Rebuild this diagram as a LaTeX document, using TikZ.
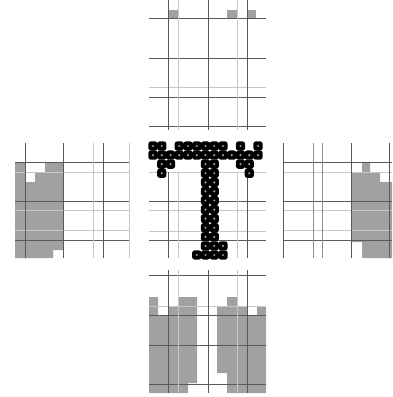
\documentclass[tikz,border=0pt]{standalone}
\begin{document}
\begin{tikzpicture}[x=1pt, y=-1pt, line join=round,
    dark/.style={black!65, line width=0.8pt},
    light/.style={black!22, line width=0.7pt},
    mid/.style={black!45, line width=0.7pt},
    blob/.style={fill=black!37, draw=none}]
  \useasboundingbox (0,0) rectangle (392,397);

  % 1. Vùng xám (vẽ trước, nằm dưới lưới)
  \fill[blob] (168,10) rectangle (178,18);
  \fill[blob] (227,10) rectangle (237,18);
  \fill[blob] (247,10) rectangle (256,18);
  % trái
  \fill[blob] (15,162) -- (25,162) -- (25,182) -- (35,182) -- (35,172) -- (45,172)
    -- (45,162) -- (63,162) -- (63,250) -- (53,250) -- (53,258) -- (15,258) -- cycle;
  % phải
  \fill[blob] (351,172) -- (362,172) -- (362,162) -- (370,162) -- (370,172) -- (380,172)
    -- (380,182) -- (392,182) -- (392,258) -- (362,258) -- (362,242) -- (351,242) -- cycle;
  % dưới
  \fill[blob] (149,297) -- (158,297) -- (158,315) -- (168,315) -- (168,306) -- (178,306)
    -- (178,297) -- (197,297) -- (197,383) -- (188,383) -- (188,393) -- (149,393) -- cycle;
  \fill[blob] (217,307) -- (227,307) -- (227,297) -- (237,297) -- (237,307) -- (247,307)
    -- (247,315) -- (257,315) -- (257,307) -- (266,307) -- (266,393) -- (227,393)
    -- (227,373) -- (217,373) -- cycle;

  % 2. Lưới trên
  \foreach \y in {18,58,97,126} \draw[dark] (149,\y) -- (266,\y);
  \draw[light] (149,87) -- (266,87);
  \foreach \x in {168,208,247} \draw[dark] (\x,0) -- (\x,130);
  \foreach \x in {178,237} \draw[light] (\x,0) -- (\x,130);

  % 3. Lưới giữa
  \foreach \y in {201,240} \draw[dark] (149,\y) -- (266,\y);
  \foreach \y in {172,210,231} \draw[light] (149,\y) -- (266,\y);
  \foreach \x in {168,208,247} \draw[dark] (\x,172) -- (\x,258);
  \foreach \x in {178,237} \draw[light] (\x,172) -- (\x,258);

  % 4. Lưới trái và phải
  \foreach \y in {162,201,240} {
    \draw[dark] (15,\y) -- (130,\y);
    \draw[dark] (283,\y) -- (392,\y);
  }
  \foreach \y in {172,210,230} {
    \draw[light] (15,\y) -- (130,\y);
    \draw[light] (283,\y) -- (392,\y);
  }
  \foreach \x in {25,63,103,283,351,389} \draw[dark] (\x,143) -- (\x,258);
  \foreach \x in {93,129} \draw[light] (\x,143) -- (\x,258);
  \foreach \x in {313,322} \draw[mid] (\x,143) -- (\x,258);

  % 5. Lưới dưới
  \foreach \y in {275,315,345,384} \draw[dark] (149,\y) -- (266,\y);
  \draw[light] (149,306) -- (266,306);
  \foreach \x in {168,208,247} \draw[dark] (\x,270) -- (\x,393);
  \foreach \x in {178,237} \draw[light] (\x,270) -- (\x,393);

  % 6. Chữ T bằng các chấm
  \foreach \r/\cs in {0/{0,1,3,4,5,6,7,8,10,12}, 1/{0,1,...,12}, 2/{1,2,6,7,10,11},
      3/{1,6,7,11}, 4/{6,7}, 5/{6,7}, 6/{6,7}, 7/{6,7}, 8/{6,7}, 9/{6,7}, 10/{6,7},
      11/{6,7,8}, 12/{5,6,7,8}} {
    \foreach \c in \cs {
      \fill[black, rounded corners=2.5pt] ({153+8.75*\c-4.6},{146+9.08*\r-4.6})
        rectangle ++(9.2,9.2);
      \fill[black!40] ({153+8.75*\c},{146+9.08*\r}) circle (1.2);
    }
  }
\end{tikzpicture}
\end{document}
